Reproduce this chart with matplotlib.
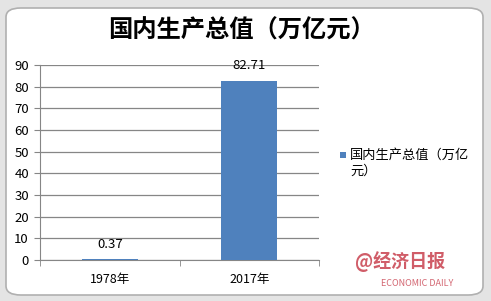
import matplotlib.pyplot as plt
from matplotlib.patches import FancyBboxPatch, Rectangle

plt.rcParams['font.family'] = ['Noto Sans CJK SC', 'DejaVu Sans']

years = ['1978年', '2017年']
gdp = [0.37, 82.71]
series_name = '国内生产总值（万亿元）'
legend_label = '国内生产总值（万亿\n元）'
yticks = [0, 10, 20, 30, 40, 50, 60, 70, 80, 90]

W, H = 491, 301
fig = plt.figure(figsize=(W / 100, H / 100), dpi=100)
fig.patch.set_facecolor('#e4e4e4')

# white chart area with rounded frame
frame = FancyBboxPatch((6 / W, 6 / H), 477 / W, 287 / H,
                       boxstyle='round,pad=0,rounding_size=0.03',
                       transform=fig.transFigure, facecolor='white',
                       edgecolor='#b0b0b0', linewidth=1.2, zorder=-5)
fig.patches.append(frame)

ax = fig.add_axes([40 / W, (H - 260) / H, 279 / W, 195 / H])
ax.set_zorder(2)
ax.set_facecolor('none')
x = [0, 1]
ax.bar(x, gdp, width=0.4, color='#4f81bd', zorder=3)
ax.set_xlim(-0.5, 1.5)
ax.set_ylim(0, 90)
ax.set_yticks(yticks)
ax.set_xticks(x)
ax.set_xticklabels(years, fontsize=9)
ax.tick_params(axis='y', labelsize=9.5, length=4, color='#868686', pad=4)
ax.tick_params(axis='x', length=0, pad=9)
ax.set_xticks([-0.5, 0.5, 1.5], minor=True)
ax.tick_params(axis='x', which='minor', length=4, color='#868686')
ax.grid(axis='y', color='#868686', linewidth=0.9, zorder=0)
for s in ['top', 'right']:
    ax.spines[s].set_visible(False)
ax.spines['left'].set_color('#868686')
ax.spines['bottom'].set_color('#868686')

for xi, v in zip(x, gdp):
    ax.annotate(f'{v:.2f}', (xi, v), xytext=(0, 6), textcoords='offset points',
                ha='center', va='bottom', fontsize=9.5, color='black')

fig.text(241 / W, 1 - 31 / H, series_name, ha='center', va='center',
         fontsize=17.5, fontweight='bold', color='black')

# legend
fig.patches.append(Rectangle((340 / W, 1 - 158 / H), 6 / W, 6 / H,
                             transform=fig.transFigure, facecolor='#4f81bd',
                             edgecolor='none'))
fig.text(350 / W, 1 - 163 / H, legend_label, ha='left', va='center',
         fontsize=9.5, linespacing=1.3)

# watermark
fig.text(355 / W, 1 - 262 / H, '@经济日报', ha='left', va='center',
         fontsize=13, color='#c8404e', fontweight='bold', alpha=0.85)
fig.text(381 / W, 1 - 283 / H, 'ECONOMIC DAILY', ha='left', va='center',
         fontsize=6.5, color='#c8404e', alpha=0.8)

fig.savefig('out.png', dpi=100, facecolor=fig.get_facecolor())
